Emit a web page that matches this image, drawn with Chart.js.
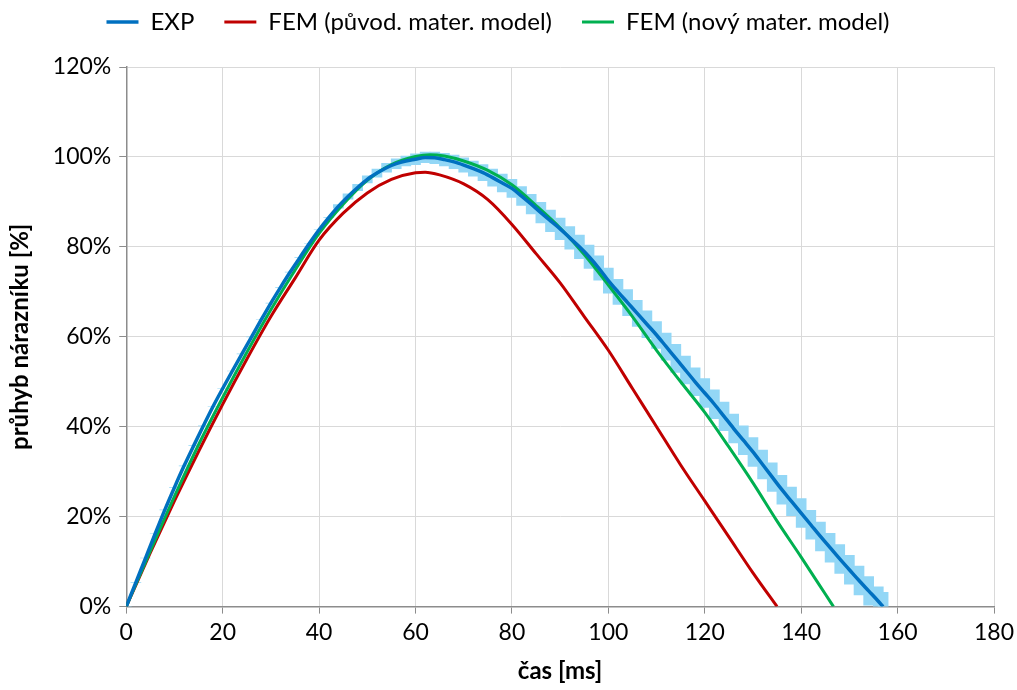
<!DOCTYPE html>
<html>
<head>
<meta charset="utf-8">
<script src="https://cdn.jsdelivr.net/npm/chart.js@4.4.1/dist/chart.umd.min.js"></script>
<style>
    html, body { margin: 0; padding: 0; background: #fff; }
    #wrap { width: 1017px; height: 690px; }
</style>
</head>
<body>
<div id="wrap"><canvas id="deflectionChart"></canvas></div>
<script>
// experiment, sampled every 2 ms
const expTime = [
    0, 2, 4, 6, 8, 10, 12, 14, 16, 18,
    20, 22, 24, 26, 28, 30, 32, 34, 36, 38,
    40, 42, 44, 46, 48, 50, 52, 54, 56, 58,
    60, 62, 64, 66, 68, 70, 72, 74, 76, 78,
    80, 82, 84, 86, 88, 90, 92, 94, 96, 98,
    100, 102, 104, 106, 108, 110, 112, 114, 116, 118,
    120, 122, 124, 126, 128, 130, 132, 134, 136, 138,
    140, 142, 144, 146, 148, 150, 152, 154, 156, 157
];
const expVal = [
    0, 5.4, 10.8, 16.2, 21.5, 26.5, 31.3, 35.8, 40.2, 44.5,
    48.5, 52.4, 56.2, 60, 63.8, 67.5, 71, 74.4, 77.6, 80.8,
    83.8, 86.5, 89, 91.2, 93.2, 95, 96.4, 97.6, 98.5, 99.1,
    99.5, 99.9, 99.8, 99.4, 98.9, 98.2, 97.4, 96.5, 95.4, 94.2,
    93, 91.3, 89.5, 87.6, 85.8, 84, 82, 80, 77.8, 75.3,
    72.5, 70, 67.6, 65.2, 62.8, 60.4, 57.8, 55.2, 52.6, 50,
    47.5, 45, 42.3, 39.6, 37, 34.4, 31.6, 28.8, 26, 23.4,
    20.8, 18.2, 15.6, 13.1, 10.6, 8.2, 5.8, 3.5, 1.2, 0
];
// scatter (+/-) of the measurement
const expErr = [
    0, 0, 0, 0, 0, 0, 0, 0, 0, 0,
    0, 0, 0, 0, 0, 0, 0, 0, 0, 0,
    0, 0, 0.4, 0.6, 0.7, 0.8, 0.9, 1.0, 1.1, 1.1,
    1.2, 1.2, 1.3, 1.4, 1.5, 1.6, 1.7, 1.8, 1.9, 2.0,
    2.0, 2.1, 2.2, 2.3, 2.4, 2.4, 2.5, 2.6, 2.6, 2.7,
    2.8, 2.8, 2.9, 2.9, 3.0, 3.0, 3.0, 3.1, 3.1, 3.1,
    3.2, 3.2, 3.2, 3.2, 3.2, 3.2, 3.2, 3.2, 3.2, 3.2,
    3.2, 3.2, 3.2, 3.2, 3.2, 3.2, 3.2, 3.2, 3.2, 3.2
];

// FEM - original material model
const femOldTime = [0, 5, 10, 15, 20, 25, 30, 35, 40, 45, 50, 55, 60, 62, 65, 70, 75, 80, 85, 90, 95, 100, 105, 110, 115, 120, 125, 130, 135];
const femOldVal = [0, 12, 23.5, 34.5, 45, 55, 64.5, 73, 81.5, 87.5, 92, 95, 96.5, 96.6, 96, 94, 90.5, 85, 78.5, 72, 64.5, 57, 48.5, 40, 31.5, 23.5, 15.5, 7.5, 0];

// FEM - new material model
const femNewTime = [0, 5, 10, 15, 20, 25, 30, 35, 40, 45, 50, 55, 60, 63, 66, 70, 75, 80, 85, 90, 95, 100, 105, 110, 115, 120, 125, 130, 135, 140, 145, 146.7];
const femNewVal = [0, 12.4, 24.5, 36, 46.5, 56.5, 66, 74.8, 83, 89.5, 94.8, 98.3, 100.1, 100.5, 100.2, 99.1, 97, 93.8, 89.2, 84.2, 78.3, 71.5, 64.5, 57, 50, 43.2, 35.5, 27.5, 19, 11, 2.8, 0];

const xTicks = [0, 20, 40, 60, 80, 100, 120, 140, 160, 180];
const yTicks = [0, 20, 40, 60, 80, 100, 120];

const toPoints = (xs, ys) => xs.map((x, i) => ({ x: x, y: ys[i] }));

const fontFamily = 'Lato, Carlito, Calibri, sans-serif';
const gridColor = '#d9d9d9';
const axisColor = '#8c8c8c';

// a bit of free space between the legend and the plot
const legendGap = {
    id: 'legendGap',
    beforeInit(chart) {
        const fit = chart.legend.fit;
        chart.legend.fit = function () {
            fit.bind(chart.legend)();
            this.height += 23;
        };
    }
};

new Chart(document.getElementById('deflectionChart'), {
    type: 'line',
    data: {
        datasets: [
            {
                label: 'EXP',
                data: toPoints(expTime, expVal),
                borderColor: '#0070c0',
                backgroundColor: '#0070c0',
                borderWidth: 3.5,
                pointRadius: 0,
                pointStyle: 'line',
                cubicInterpolationMode: 'monotone',
                order: 1
            },
            {
                label: 'FEM (původ. mater. model)',
                data: toPoints(femOldTime, femOldVal),
                borderColor: '#c00000',
                backgroundColor: '#c00000',
                borderWidth: 3,
                pointRadius: 0,
                pointStyle: 'line',
                cubicInterpolationMode: 'monotone',
                order: 3
            },
            {
                label: 'FEM (nový mater. model)',
                data: toPoints(femNewTime, femNewVal),
                borderColor: '#00b050',
                backgroundColor: '#00b050',
                borderWidth: 3,
                pointRadius: 0,
                pointStyle: 'line',
                cubicInterpolationMode: 'monotone',
                order: 2
            },
            {
                // error bars of the experiment
                type: 'bar',
                label: 'EXP rozptyl',
                data: expTime.map((t, i) => ({ x: t, y: [expVal[i] - expErr[i], expVal[i] + expErr[i]] })),
                backgroundColor: '#93d7f6',
                borderWidth: 0,
                barThickness: 10,
                order: 10
            }
        ]
    },
    options: {
        responsive: true,
        maintainAspectRatio: false,
        animation: false,
        layout: { autoPadding: false, padding: { left: 2, right: 23, top: -20, bottom: 0 } },
        plugins: {
            legend: {
                position: 'top',
                labels: {
                    usePointStyle: true,
                    pointStyleWidth: 32,
                    boxHeight: 8,
                    padding: 30,
                    color: '#000',
                    font: { family: fontFamily, size: 24 },
                    filter: item => item.datasetIndex !== 3,
                    sort: (a, b) => a.datasetIndex - b.datasetIndex
                }
            },
            tooltip: { enabled: false }
        },
        scales: {
            x: {
                type: 'linear',
                min: 0,
                max: 180,
                offset: false,
                afterBuildTicks: axis => { axis.ticks = xTicks.map(v => ({ value: v })); },
                afterFit: axis => { axis.paddingLeft = 0; axis.paddingRight = 0; },
                grid: { color: gridColor, offset: false, tickLength: 7, tickColor: axisColor },
                border: { color: axisColor, width: 1.5 },
                ticks: { color: '#000', font: { family: fontFamily, size: 23 }, padding: 5, maxRotation: 0 },
                title: {
                    display: true,
                    text: 'čas [ms]',
                    color: '#000',
                    font: { family: fontFamily, size: 24, weight: 'bold' },
                    padding: { top: 6 }
                }
            },
            y: {
                min: 0,
                max: 120,
                afterBuildTicks: axis => { axis.ticks = yTicks.map(v => ({ value: v })); },
                grid: { color: gridColor, tickLength: 7, tickColor: axisColor },
                border: { color: axisColor, width: 1.5 },
                ticks: {
                    color: '#000',
                    font: { family: fontFamily, size: 23 },
                    padding: 8,
                    callback: v => v + '%'
                },
                title: {
                    display: true,
                    text: 'průhyb nárazníku [%]',
                    color: '#000',
                    font: { family: fontFamily, size: 24, weight: 'bold' },
                    padding: { bottom: 10 }
                }
            }
        }
    },
    plugins: [legendGap]
});
</script>
</body>
</html>
